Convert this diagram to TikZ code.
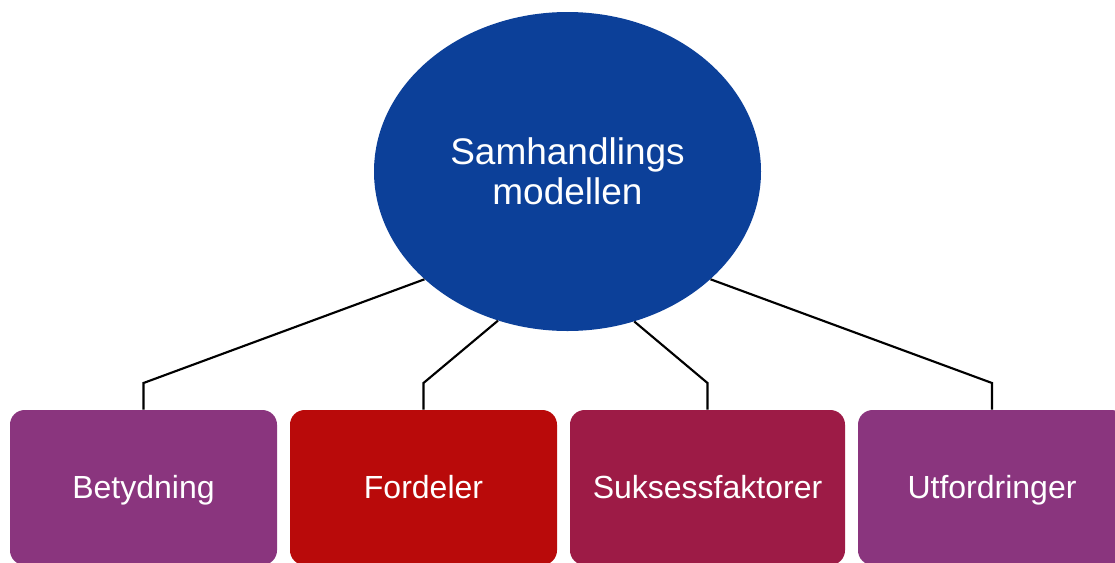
\documentclass[tikz,border=0pt]{standalone}
\usepackage{fontspec}
\setmainfont{Liberation Sans}
\usetikzlibrary{shapes.geometric}
\definecolor{hubblue}{RGB}{12,64,153}
\definecolor{plum}{RGB}{138,53,126}
\definecolor{brightred}{RGB}{185,10,10}
\definecolor{crimson}{RGB}{157,27,70}
\tikzset{
  hub/.style={ellipse, fill=hubblue, inner sep=0pt,
    minimum width=290.25pt, minimum height=239.25pt,
    text=white, align=center,
    font=\fontsize{27.75}{30}\selectfont},
  topic/.style={rectangle, rounded corners=11pt, inner sep=0pt,
    minimum height=116.25pt, text=white,
    text height=20.75pt, text depth=5pt,
    font=\fontsize{24}{28}\selectfont},
  link/.style={draw=black, line width=1.6pt, line join=miter}
}
\begin{document}
\begin{tikzpicture}[x=0.75pt, y=-0.75pt]
  \path[use as bounding box, clip] (0,0) rectangle (1115,562);
  \fill[white] (0,0) rectangle (1115,562);

  % topic boxes along the bottom edge
  \node[topic, fill=plum, minimum width=200.25pt] (b1) at (143.5,487.5) {Betydning};
  \node[topic, fill=brightred, minimum width=200.25pt] (b2) at (423.5,487.5) {Fordeler};
  \node[topic, fill=crimson, minimum width=206.25pt] (b3) at (707.5,487.5) {Suksessfaktorer};
  \node[topic, fill=plum, minimum width=201pt] (b4) at (992,487.5) {Utfordringer};

  % central ellipse
  \node[hub] (hub) at (567.5,171.5) {Samhandlings\\modellen};

  % elbow height of the connectors
  \coordinate (elbow) at (0,383);

  \draw[link] (hub.217) -- (b1.north |- elbow) -- (b1.north);
  \draw[link] (hub.245.6) -- (b2.north |- elbow) -- (b2.north);
  \draw[link] (hub.294.4) -- (b3.north |- elbow) -- (b3.north);
  \draw[link] (hub.323) -- (b4.north |- elbow) -- (b4.north);
\end{tikzpicture}
\end{document}
